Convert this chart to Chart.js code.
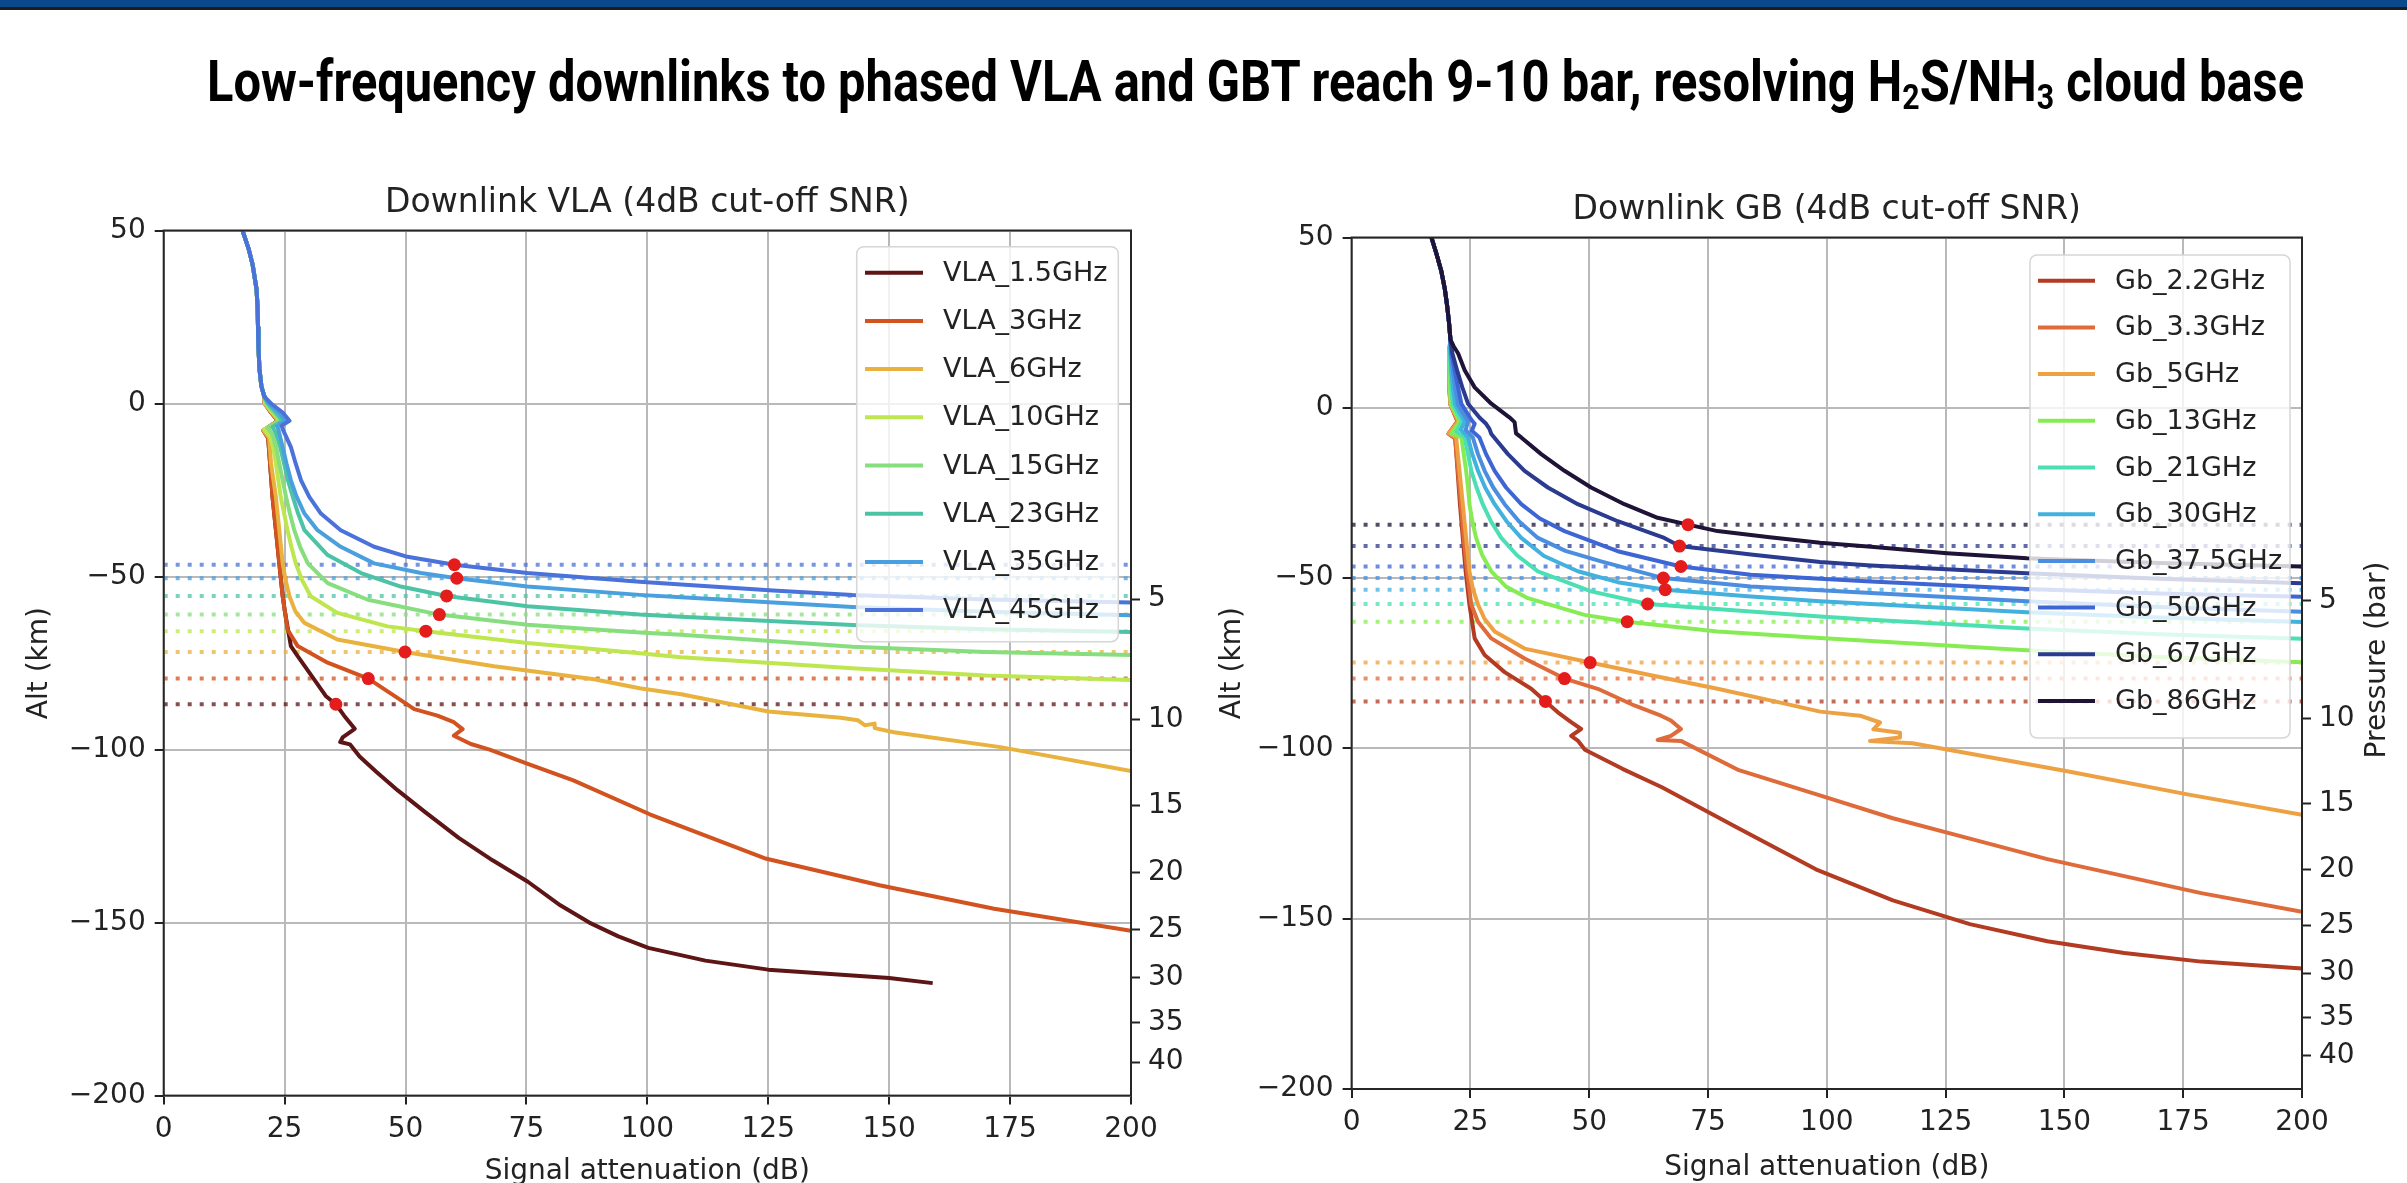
<!DOCTYPE html>
<html>
<head>
<meta charset="utf-8">
<script src="https://cdn.jsdelivr.net/npm/chart.js@4.4.1/dist/chart.umd.min.js"></script>
<style>
  html, body { margin: 0; padding: 0; background: #fff; overflow: hidden; }
  body { width: 2407px; height: 1183px; position: relative; }
  #bar { position: absolute; left: 0; top: 0; width: 2407px; height: 7px; background: #0a4a8c; }
  #rule { position: absolute; left: 0; top: 7px; width: 2407px; height: 3px; background: #1c1c1c; }
  #headline { position: absolute; left: 207px; top: 52px; font: bold 58px Roboto, sans-serif; line-height: 58px;
              white-space: nowrap; transform-origin: 0 0; color: #000; z-index: 2; }
  #headline sub { font-size: 0.62em; vertical-align: -0.22em; line-height: 0; }
  canvas { position: absolute; top: 0; }
  #vla { left: 0; }
  #gb { left: 1200px; }
</style>
</head>
<body>
<div id="bar"></div>
<div id="rule"></div>
<div id="headline">Low-frequency downlinks to phased VLA and GBT reach 9-10 bar, resolving H<sub>2</sub>S/NH<sub>3</sub> cloud base</div>
<canvas id="vla" width="1200" height="1200"></canvas>
<canvas id="gb" width="1207" height="1200"></canvas>
<script>
// --- dati: [attenuazione dB, quota km] ---

// asse destro: pressione (bar) e quota corrispondente
var pressureTicks = [5, 10, 15, 20, 25, 30, 35, 40];
var pressureAlt = [-56.5, -91.3, -116.3, -135.6, -152, -166, -179, -190.3];

// VLA
var vlaLabels = ['VLA_1.5GHz', 'VLA_3GHz', 'VLA_6GHz', 'VLA_10GHz', 'VLA_15GHz', 'VLA_23GHz', 'VLA_35GHz', 'VLA_45GHz'];
var vlaCut = [-86.9, -79.5, -71.8, -65.8, -61, -55.6, -50.5, -46.6];
var vlaDotX = [35.6, 42.3, 49.9, 54.2, 57, 58.5, 60.6, 60.1];
var vlaTop = [[16.3, 50], [17.5, 45], [18.4, 40], [19.2, 33], [19.4, 28], [19.5, 22], [19.6, 16], [19.8, 10], [20.2, 5], [20.8, 2]];
var vla1p5 = [[20.9, 0], [22.2, -2.6], [23.6, -5], [20.6, -7.8], [21.6, -10], [22, -17.4], [22.5, -27], [23.2, -36.6], [23.9, -46.2],
  [24.6, -55.7], [25.1, -60.5], [26.3, -70.1], [27.7, -73], [31.1, -79.7], [33.5, -84.5], [35.6, -86.9], [37.3, -90.2], [39.5, -94],
  [37, -96.5], [36.5, -97.8], [38.5, -98.5], [40.5, -102], [44, -106.5], [48.4, -111.8], [54, -118], [61, -125.5], [68, -132],
  [75.3, -138.2], [82, -145], [88, -150], [94, -154], [100.2, -157.3], [112, -161], [125, -163.6], [150, -166], [159, -167.5]];
var vla3 = [[20.9, 0], [22.2, -2.6], [23.6, -5], [20.6, -7.8], [21.6, -10], [22, -17.4], [22.5, -27], [23.2, -36.6], [23.9, -46.2],
  [24.6, -55.7], [25.6, -65.3], [27.7, -70.1], [33.9, -74.9], [42.3, -79.5], [47.7, -84.5], [51.8, -88.3], [56.6, -90.2], [60, -92.1],
  [61.8, -94.1], [60, -96], [63.5, -98.4], [67.4, -100], [75, -104], [84.7, -108.9], [100.5, -118.7], [124.2, -131.4], [148, -139.2],
  [171.7, -146], [200, -152.4]];
var vla6 = [[20.9, 0], [22.3, -2.6], [23.8, -5], [20.6, -7.7], [21.8, -10], [22.2, -17.4], [22.7, -22.2], [23.2, -27], [23.9, -36.6],
  [24.6, -46.2], [25.2, -51], [26, -55.7], [27.2, -60], [29.1, -63.4], [35.9, -68.2], [49.9, -71.8], [68.3, -75.9], [89, -79.7],
  [98.4, -82.3], [107, -84], [125, -89], [140, -90.8], [143.5, -91.5], [145, -93], [147, -92.5], [147, -93.8], [151, -95],
  [173, -99.3], [200, -106.2]];
var vla10 = [[21, 0], [22.5, -2.6], [24, -5], [20.8, -7.5], [22, -9.5], [22.7, -13], [23.2, -17.4], [23.7, -22.2], [24.2, -27],
  [24.9, -31.8], [25.6, -36.6], [26.4, -41.4], [27.3, -46.2], [28.6, -51], [30.4, -55.7], [35.9, -60.5], [46.3, -64.4], [54.2, -65.8],
  [75.2, -69.2], [98.4, -72.2], [107, -73.3], [142.4, -76.5], [170, -78.6], [200, -79.9]];
var vla15 = [[21.2, 0], [22.8, -2.6], [24.2, -5], [21.5, -7], [22.5, -9], [23.3, -13], [23.9, -17.4], [24.6, -22.2], [25.3, -27],
  [26.1, -31.8], [27, -36.6], [28.2, -41.4], [29.8, -46.2], [33.9, -51.9], [42.2, -56.7], [57, -61], [75.2, -63.9], [98.4, -66.2],
  [107, -66.8], [142.4, -70.3], [170, -71.8], [200, -72.7]];
var vla23 = [[21.5, 0], [23.2, -2.6], [24.6, -5], [22.5, -6.8], [23.2, -8.5], [24.1, -12.6], [24.9, -17.4], [25.7, -22.2],
  [26.7, -27], [27.8, -31.8], [29.1, -36.6], [33.9, -43.8], [40.8, -49], [49, -52.9], [58.5, -55.6], [75.2, -58.6], [98.4, -61],
  [107, -61.6], [142.4, -64], [170, -65.2], [200, -66]];
var vla35 = [[21.8, 0], [23.8, -2.6], [25.2, -5], [23.5, -6.5], [23.8, -8], [24.6, -12.6], [25.4, -17.4], [26.3, -22.2],
  [27.5, -27], [29.1, -31.8], [31.8, -36.6], [36.6, -41.4], [43.5, -46.2], [53.2, -49], [60.6, -50.5], [75.2, -52.9], [98.4, -55.3],
  [107, -56], [142.4, -58.8], [170, -60.2], [200, -61.2]];
var vla45 = [[22.2, 0], [24.6, -2.6], [26, -5], [24.4, -6.4], [24.6, -7.4], [26.3, -12.6], [27.3, -17.4], [28.4, -22.2], [30.1, -27],
  [32.5, -31.8], [36.6, -36.6], [43.5, -41.4], [50.4, -44.3], [60.1, -46.6], [75.2, -49], [98.4, -51.5], [107, -52.3], [126, -54],
  [142.4, -55.3], [170, -56.6], [200, -57.5]];

// GB
var gbLabels = ['Gb_2.2GHz', 'Gb_3.3GHz', 'Gb_5GHz', 'Gb_13GHz', 'Gb_21GHz', 'Gb_30GHz', 'Gb_37.5GHz', 'Gb_50GHz', 'Gb_67GHz', 'Gb_86GHz'];
var gbCut = [-86.2, -79.5, -74.8, -62.8, -57.6, -53.4, -50, -46.6, -40.6, -34.3];
var gbDotX = [40.8, 44.8, 50.2, 58, 62.3, 66, 65.6, 69.3, 69, 70.8];
var gbTop = [[16.8, 50], [17.9, 45], [18.9, 40], [19.6, 35], [20.1, 30], [20.5, 25], [20.8, 20]];
var gb2p2 = [[20.5, 16], [20.5, 11], [20.6, 6], [20.8, 1], [22.3, -4], [20.4, -7.6], [21.8, -9], [22.3, -18.5], [22.8, -28.3],
  [23.4, -38.2], [24, -48], [24.8, -57.8], [25.9, -67.7], [28, -72.6], [32.2, -77.6], [37.8, -82.5], [40.8, -86.2], [43.4, -89.4],
  [46.2, -92.3], [48.3, -94.3], [46.2, -96.3], [47.6, -97.7], [49.1, -100.4], [57, -106], [65.3, -111.4], [81.5, -123.5],
  [97.7, -135.5], [113.9, -144.6], [130.1, -151.6], [146.4, -156.6], [162.6, -160.1], [178.8, -162.6], [200, -164.6]];
var gb3p3 = [[20.5, 16], [20.5, 11], [20.6, 6], [20.8, 1], [22.3, -4], [20.4, -7.6], [21.8, -9], [22.4, -18.5], [23, -28.3],
  [23.6, -38.2], [24.3, -48], [25.2, -57.8], [26.6, -62.8], [29.4, -67.7], [36.4, -73.6], [44.8, -79.5], [51.8, -82.5],
  [59.5, -87.4], [65.1, -90.4], [67.2, -91.8], [69.3, -94.3], [67.2, -96.3], [64.4, -97.5], [69.3, -97.8], [81.5, -106.4],
  [97.7, -113.4], [113.9, -120.5], [130.1, -126.5], [146.4, -132.5], [162.6, -137.5], [178.8, -142.5], [200, -148]];
var gb5 = [[20.5, 16], [20.5, 11], [20.6, 6], [20.8, 1], [22.5, -4], [20.5, -7.5], [22, -8.7], [22.7, -18.5], [23.4, -28.3],
  [24.1, -38.2], [24.8, -48], [25.5, -53], [26.6, -57.8], [28, -62], [30.1, -65.7], [36.4, -70.7], [50.2, -74.8], [63, -78.5],
  [77, -82.5], [90, -86.5], [98.6, -89.2], [107, -90.4], [111.2, -92.4], [109.8, -94.4], [115.4, -95.4], [115.4, -96.8],
  [109.1, -97.8], [118, -98.5], [125.3, -100.3], [150.6, -106.7], [175.9, -113.5], [200, -119.5]];
var gb13 = [[20.6, 16], [20.6, 11], [20.7, 6], [20.9, 1], [22.8, -4], [21, -7.5], [23.1, -8.7], [23.6, -13.6], [24.1, -18.5],
  [24.5, -23.4], [24.8, -28.3], [25.4, -33.3], [26.2, -38.2], [27.5, -43.3], [29.4, -48], [32.5, -52.5], [37.1, -55.9], [49, -60.8],
  [58, -62.8], [77, -65.7], [98.6, -67.6], [109.3, -68.5], [142, -71.2], [170, -73.2], [200, -74.7]];
var gb21 = [[20.7, 16], [20.8, 11], [21, 6], [21.3, 1], [23.2, -4], [22, -7], [23.8, -8.7], [24.5, -13.6], [25.2, -18.5],
  [26.3, -23.4], [27.6, -28.3], [29.3, -33.3], [31.5, -38.2], [34.8, -43.3], [39.2, -48], [50.4, -53.9], [62.3, -57.6], [84, -59.8],
  [98.6, -61.3], [109.3, -62.2], [142, -64.8], [170, -66.5], [200, -67.8]];
var gb30 = [[20.8, 16], [21, 11], [21.3, 6], [21.8, 1], [23.8, -4], [23, -6.5], [24.5, -8.7], [25.4, -13.6], [26.6, -18.5],
  [28.1, -23.4], [30.1, -28.3], [32.6, -33.3], [35.7, -38.2], [40.5, -43.5], [47.6, -48], [56, -51.2], [66, -53.4], [84, -55.4],
  [98.6, -56.8], [109.3, -57.6], [142, -60], [170, -61.6], [200, -62.9]];
var gb37p5 = [[20.9, 16], [21.3, 11], [21.8, 6], [22.4, 1], [24.5, -4], [24, -6.5], [25.5, -8.7], [26.6, -13.6], [28, -18.5],
  [29.8, -23.4], [32.2, -28.3], [35.2, -33.3], [39.2, -38.2], [45, -42], [52.5, -45.1], [65.6, -50], [84, -52.5], [98.6, -53.6],
  [109.3, -54.4], [142, -56.8], [170, -58.5], [200, -59.9]];
var gb50 = [[21, 16], [21.7, 11], [22.4, 6], [23.1, 1.2], [25.2, -3.5], [25.9, -4.7], [25.3, -6.7], [26.9, -8.7], [28.3, -13.6],
  [30.1, -18.5], [32.5, -23.4], [35.7, -28.3], [39.6, -32.5], [44.8, -36.2], [56, -42.1], [69.3, -46.6], [84, -49], [98.6, -50.2],
  [109.3, -51], [142, -53.2], [170, -54.5], [200, -55.5]];
var gb67 = [[21.2, 16], [22.2, 11], [23.3, 6], [24.5, 1.2], [27, -3], [28.3, -4.7], [29, -6.2], [29.4, -7.7], [32.9, -13.6],
  [36.4, -18.5], [41.3, -23.4], [47.6, -28.3], [56, -33.3], [65.8, -38.2], [69, -40.6], [84, -43.1], [98.6, -45.3], [109.3, -46.3],
  [142.1, -48.6], [170, -50.2], [200, -51.5]];
var gb86 = [[21.5, 18], [22.4, 16], [23.8, 11], [25.9, 6], [29.4, 1.2], [33.2, -2.8], [34.3, -4.2], [34.6, -7.5], [35.7, -8.7],
  [39.9, -13.6], [44.8, -18.5], [50.4, -23.4], [57.4, -28.3], [64.4, -32.3], [70.8, -34.3], [77, -36.2], [88, -38], [98.6, -39.6],
  [109.3, -40.8], [125.3, -42.7], [142.1, -44.2], [170, -45.6], [200, -46.6]];

// colori (stile)
var vlaColors = ['#5e1515', '#d2531f', '#e9b23e', '#bde64f', '#86de7e', '#4dc3a6', '#4aa0df', '#4a72da'];
var gbColors = ['#b23b22', '#df6b3b', '#eea143', '#87ec54', '#4cdfb3', '#43b1de', '#4b8ee0', '#3e65d4', '#2b3b8f', '#1f1337'];

Chart.defaults.font.family = "'DejaVu Sans', sans-serif";
Chart.defaults.color = '#222';

// Converte una lista di coppie in punti {x, y}
function toPoints(top, pts) {
  return top.concat(pts).map(function (p) { return { x: p[0], y: p[1] }; });
}

// Formato con il segno meno tipografico
function fmtTick(v) {
  return v < 0 ? '\u2212' + Math.abs(v) : String(v);
}

// Costruisce i dataset: curve, linee di cut-off tratteggiate, punti rossi
function buildDatasets(curves, labels, colors, cuts, dotX) {
  var sets = [];
  var dots = [];
  for (var i = 0; i < curves.length; i++) {
    sets.push({
      label: labels[i], data: curves[i], showLine: true, borderColor: colors[i], backgroundColor: colors[i],
      borderWidth: 4, borderJoinStyle: 'round', pointRadius: 0, order: 50 - i
    });
    sets.push({
      label: labels[i] + ' cut-off', data: [{ x: 0, y: cuts[i] }, { x: 200, y: cuts[i] }], showLine: true,
      borderColor: colors[i] + 'c0', borderWidth: 4, borderDash: [4, 8], borderCapStyle: 'butt', pointRadius: 0, order: 100
    });
    dots.push({ x: dotX[i], y: cuts[i] });
  }
  sets.push({ label: 'cut-off', data: dots, showLine: false, pointRadius: 6.5, pointBackgroundColor: '#e41c1c',
    pointBorderWidth: 0, order: 0 });
  return sets;
}

// Plugin: cornice, legenda interna, titolo del pannello, etichetta destra
function makeDecor(p) {
  return {
    id: 'decor',
    afterDatasetsDraw: function (chart) {
      var ctx = chart.ctx, a = chart.chartArea;
      ctx.save();
      ctx.strokeStyle = '#262626';
      ctx.lineWidth = 2;
      ctx.strokeRect(a.left, a.top, a.right - a.left, a.bottom - a.top);

      var lg = p.legend;
      ctx.fillStyle = 'rgba(255,255,255,0.8)';
      ctx.strokeStyle = '#d6d6d6';
      ctx.lineWidth = 1.5;
      ctx.beginPath();
      ctx.roundRect(lg.x, lg.y, lg.w, lg.h, 7);
      ctx.fill();
      ctx.stroke();
      ctx.font = '27px "DejaVu Sans"';
      ctx.textAlign = 'left';
      ctx.textBaseline = 'middle';
      for (var i = 0; i < p.labels.length; i++) {
        var yy = lg.row0 + i * lg.step;
        ctx.strokeStyle = p.colors[i];
        ctx.lineWidth = 4;
        ctx.beginPath();
        ctx.moveTo(lg.s0, yy);
        ctx.lineTo(lg.s1, yy);
        ctx.stroke();
        ctx.fillStyle = '#222';
        ctx.fillText(p.labels[i], lg.tx, yy + 1);
      }

      ctx.font = '33px "DejaVu Sans"';
      ctx.textAlign = 'center';
      ctx.textBaseline = 'alphabetic';
      ctx.fillStyle = '#222';
      ctx.fillText(p.title, (a.left + a.right) / 2, a.top - 19);

      if (p.rightTitle) {
        ctx.translate(p.rightTitle.x, p.rightTitle.y);
        ctx.rotate(-Math.PI / 2);
        ctx.font = '28px "DejaVu Sans"';
        ctx.textBaseline = 'middle';
        ctx.fillText(p.rightTitle.text, 0, 0);
      }
      ctx.restore();
    }
  };
}

// Crea un pannello
function makePanel(id, p) {
  var gridCol = '#b9b9b9';
  return new Chart(document.getElementById(id), {
    type: 'scatter',
    data: { datasets: buildDatasets(p.curves, p.labels, p.colors, p.cuts, p.dotX) },
    options: {
      responsive: false,
      animation: false,
      devicePixelRatio: 1,
      events: [],
      layout: { padding: { top: p.padTop, left: 0, right: 0, bottom: 0 } },
      plugins: { legend: { display: false }, title: { display: false }, tooltip: { enabled: false } },
      scales: {
        x: {
          type: 'linear', min: 0, max: 200,
          afterFit: function (s) { s.height = p.xHeight; },
          grid: { color: gridCol, lineWidth: 2, tickLength: 9, tickColor: '#222', tickWidth: 2 },
          border: { display: false },
          ticks: { stepSize: 25, padding: 8, font: { size: 28 }, color: '#222', maxRotation: 0 },
          title: { display: true, text: 'Signal attenuation (dB)', font: { size: 28 }, color: '#222',
            padding: { top: 0, bottom: p.xTitlePad } }
        },
        y: {
          type: 'linear', position: 'left', min: -200, max: 50,
          afterFit: function (s) { s.width = p.yWidth; },
          grid: { color: gridCol, lineWidth: 2, tickLength: 9, tickColor: '#222', tickWidth: 2 },
          border: { display: false },
          ticks: { stepSize: 50, padding: 9, font: { size: 28 }, color: '#222', callback: fmtTick },
          title: { display: true, text: 'Alt (km)', font: { size: 28 }, color: '#222',
            padding: { top: p.yTitlePad, bottom: 0 } }
        },
        y2: {
          type: 'linear', position: 'right', min: -200, max: 50,
          afterBuildTicks: function (s) { s.ticks = pressureAlt.map(function (v) { return { value: v }; }); },
          afterFit: function (s) { s.width = p.y2Width; },
          grid: { drawOnChartArea: false, tickLength: 9, tickColor: '#222', tickWidth: 2 },
          border: { display: false },
          ticks: { autoSkip: false, padding: 8, font: { size: 28 }, color: '#222',
            callback: function (v, i) { return String(pressureTicks[i]); } }
        }
      }
    },
    plugins: [makeDecor(p)]
  });
}

makePanel('vla', {
  curves: [vla1p5, vla3, vla6, vla10, vla15, vla23, vla35, vla45].map(function (c) { return toPoints(vlaTop, c); }),
  labels: vlaLabels, colors: vlaColors, cuts: vlaCut, dotX: vlaDotX,
  title: 'Downlink VLA (4dB cut-off SNR)',
  padTop: 230.5, xHeight: 104.4, yWidth: 163.7, y2Width: 69, xTitlePad: 11, yTitlePad: 23,
  legend: { x: 856.7, y: 246.7, w: 261.6, h: 395, row0: 272.7, step: 48.2, s0: 865, s1: 923, tx: 943 }
});

makePanel('gb', {
  curves: [gb2p2, gb3p3, gb5, gb13, gb21, gb30, gb37p5, gb50, gb67, gb86].map(function (c) { return toPoints(gbTop, c); }),
  labels: gbLabels, colors: gbColors, cuts: gbCut, dotX: gbDotX,
  title: 'Downlink GB (4dB cut-off SNR)',
  padTop: 237.5, xHeight: 111, yWidth: 151.6, y2Width: 105, xTitlePad: 15, yTitlePad: 16,
  legend: { x: 830, y: 255, w: 260, h: 483, row0: 280.7, step: 46.7, s0: 838, s1: 895, tx: 915 },
  rightTitle: { text: 'Pressure (bar)', x: 1178, y: 660 }
});

// Titolo principale: larghezza adattata a quella del riferimento
var head = document.getElementById('headline');
var w = head.getBoundingClientRect().width;
head.style.transform = 'scaleX(' + (2097 / w) + ')';
</script>
</body>
</html>
